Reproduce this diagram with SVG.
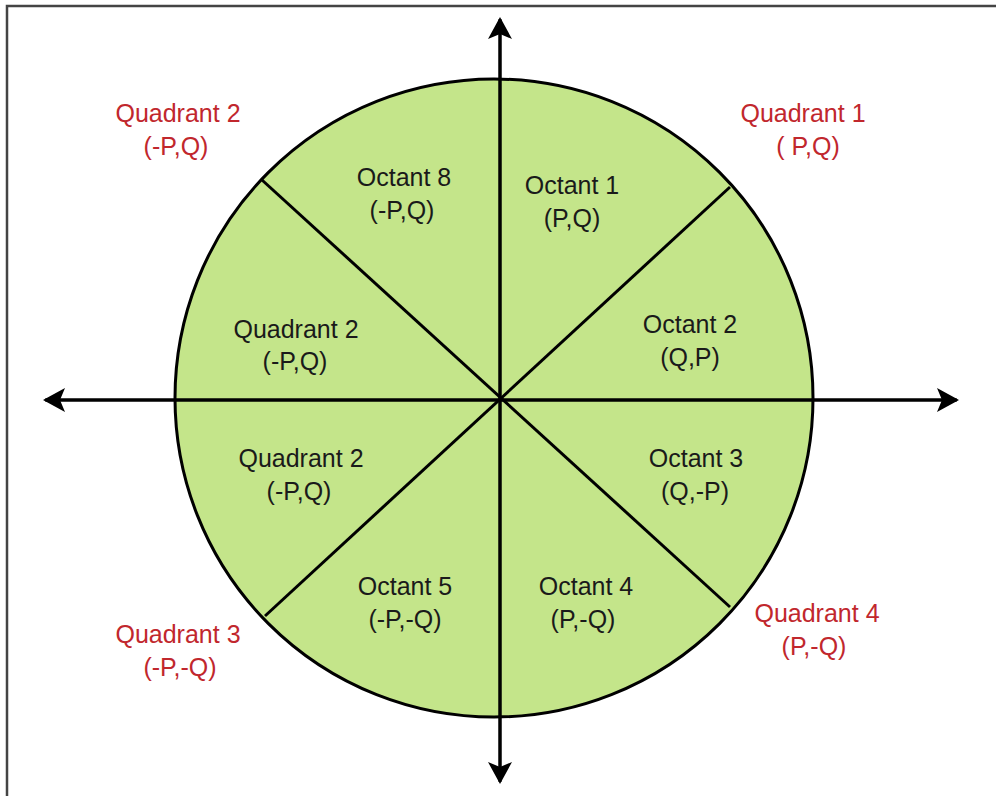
<svg xmlns="http://www.w3.org/2000/svg" width="996" height="796" viewBox="0 0 996 796">
<style>
.ln{stroke:#000;stroke-width:3;fill:none}
.t{font-family:"Liberation Sans",Arial,sans-serif;font-size:25px;text-anchor:middle;fill:#1a1a1a}
.r{fill:#c1272d}
</style>
<defs>
<marker id="ah" viewBox="0 0 22 24" refX="20" refY="12" markerWidth="22" markerHeight="24" markerUnits="userSpaceOnUse" orient="auto">
<path d="M0,0 L22,12 L0,24 L5,12 Z" fill="#000"/>
</marker>
</defs>
<rect x="7" y="6" width="1000" height="800" fill="#fff" stroke="#444" stroke-width="2.5"/>
<g id="circle">
<circle cx="494" cy="398" r="319" fill="#c4e58a" stroke="#000" stroke-width="3"/>
</g>
<g id="connectors">
<line class="ln" x1="262" y1="180" x2="730" y2="607"/>
<line class="ln" x1="730" y1="187" x2="265" y2="616"/>
<line class="ln" x1="500" y1="780" x2="500" y2="19" marker-end="url(#ah)"/>
<line class="ln" x1="500" y1="20" x2="500" y2="782" marker-end="url(#ah)"/>
<line class="ln" x1="956" y1="400" x2="45" y2="400" marker-end="url(#ah)"/>
<line class="ln" x1="46" y1="400" x2="957" y2="400" marker-end="url(#ah)"/>
</g>
<g id="q2-outer"><text class="t r" x="178" y="122">Quadrant 2</text><text class="t r" x="176" y="155">(-P,Q)</text></g>
<g id="q1-outer"><text class="t r" x="803" y="122">Quadrant 1</text><text class="t r" x="808" y="155">( P,Q)</text></g>
<g id="q3-outer"><text class="t r" x="178" y="643">Quadrant 3</text><text class="t r" x="180" y="676">(-P,-Q)</text></g>
<g id="q4-outer"><text class="t r" x="817" y="622">Quadrant 4</text><text class="t r" x="814" y="655">(P,-Q)</text></g>
<g id="octant8"><text class="t" x="404" y="186">Octant 8</text><text class="t" x="402" y="219">(-P,Q)</text></g>
<g id="octant1"><text class="t" x="572" y="194">Octant 1</text><text class="t" x="572" y="227">(P,Q)</text></g>
<g id="octant2"><text class="t" x="690" y="333">Octant 2</text><text class="t" x="690" y="366">(Q,P)</text></g>
<g id="octant7"><text class="t" x="296" y="338">Quadrant 2</text><text class="t" x="295" y="370">(-P,Q)</text></g>
<g id="octant6"><text class="t" x="301" y="467">Quadrant 2</text><text class="t" x="299" y="500">(-P,Q)</text></g>
<g id="octant3"><text class="t" x="696" y="467">Octant 3</text><text class="t" x="695" y="500">(Q,-P)</text></g>
<g id="octant5"><text class="t" x="405" y="595">Octant 5</text><text class="t" x="405" y="628">(-P,-Q)</text></g>
<g id="octant4"><text class="t" x="586" y="595">Octant 4</text><text class="t" x="583" y="628">(P,-Q)</text></g>
</svg>
